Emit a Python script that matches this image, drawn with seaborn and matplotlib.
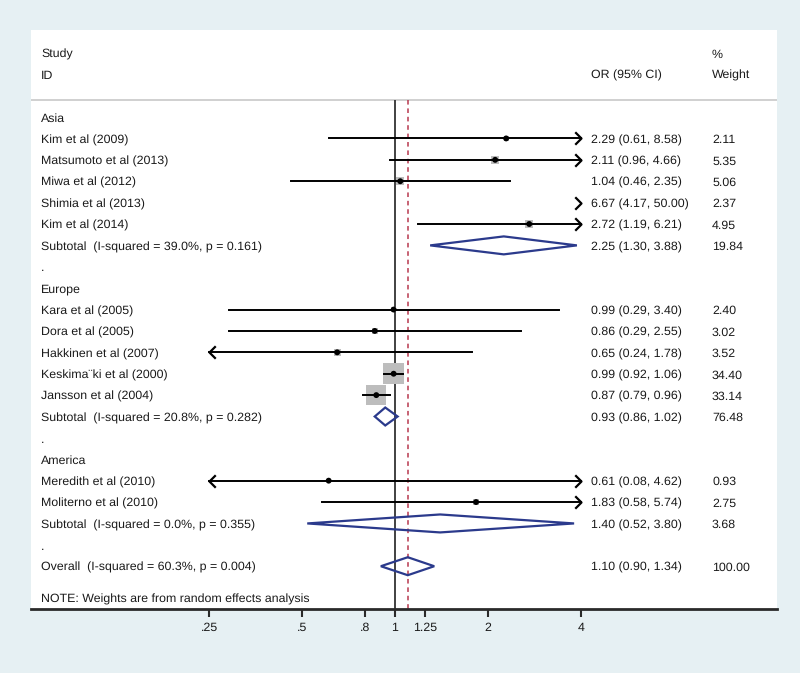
import numpy as np
import pandas as pd
import seaborn as sns
import matplotlib.pyplot as plt
from matplotlib.patches import Polygon
from matplotlib.transforms import blended_transform_factory

# ---- data ----
groups = ["Asia", "Europe", "America"]

study_group = ["Asia"] * 5 + ["Europe"] * 5 + ["America"] * 2
study_names = [
    "Kim et al (2009)", "Matsumoto et al (2013)", "Miwa et al (2012)",
    "Shimia et al (2013)", "Kim et al (2014)",
    "Kara et al (2005)", "Dora et al (2005)", "Hakkinen et al (2007)",
    "Keskima\u00a8ki et al (2000)", "Jansson et al (2004)",
    "Meredith et al (2010)", "Moliterno et al (2010)",
]
study_or = [2.29, 2.11, 1.04, 6.67, 2.72, 0.99, 0.86, 0.65, 0.99, 0.87, 0.61, 1.83]
study_lo = [0.61, 0.96, 0.46, 4.17, 1.19, 0.29, 0.29, 0.24, 0.92, 0.79, 0.08, 0.58]
study_hi = [8.58, 4.66, 2.35, 50.00, 6.21, 3.40, 2.55, 1.78, 1.06, 0.96, 4.62, 5.74]
study_weight = [2.11, 5.35, 5.06, 2.37, 4.95, 2.40, 3.02, 3.52, 34.40, 33.14, 0.93, 2.75]

subtotal_isq = [39.0, 20.8, 0.0]
subtotal_p = [0.161, 0.282, 0.355]
subtotal_or = [2.25, 0.93, 1.40]
subtotal_lo = [1.30, 0.86, 0.52]
subtotal_hi = [3.88, 1.02, 3.80]
subtotal_weight = [19.84, 76.48, 3.68]

overall_isq, overall_p = 60.3, 0.004
overall_or, overall_lo, overall_hi, overall_weight = 1.10, 0.90, 1.34, 100.00

tick_values = [0.25, 0.5, 0.8, 1, 1.25, 2, 4]
tick_labels = [".25", ".5", ".8", "1", "1.25", "2", "4"]
clip_lo, clip_hi = 0.25, 4

# ---- build row layout ----
rows = []   # (kind, label, est, lo, hi, weight)
for gi, g in enumerate(groups):
    rows.append(("group", g, np.nan, np.nan, np.nan, np.nan))
    for i, sg in enumerate(study_group):
        if sg == g:
            rows.append(("study", study_names[i], study_or[i], study_lo[i],
                         study_hi[i], study_weight[i]))
    rows.append(("sub", f"Subtotal  (I-squared = {subtotal_isq[gi]:.1f}%, p = {subtotal_p[gi]:.3f})",
                 subtotal_or[gi], subtotal_lo[gi], subtotal_hi[gi], subtotal_weight[gi]))
    rows.append(("blank", ".", np.nan, np.nan, np.nan, np.nan))
rows.append(("sub", f"Overall  (I-squared = {overall_isq:.1f}%, p = {overall_p:.3f})",
             overall_or, overall_lo, overall_hi, overall_weight))

df = pd.DataFrame(rows, columns=["kind", "label", "est", "lo", "hi", "weight"])
df["row"] = np.arange(len(df), dtype=float)
note_row = len(df) - 1 + 1.5

bg = "#e6f0f3"
navy = "#2b3a8c"
plt.rcParams["font.family"] = ["Liberation Sans", "DejaVu Sans"]
plt.rcParams["text.hinting"] = "none"
fs = 8.9
tc = "#1a1a1a"

fig = plt.figure(figsize=(8, 6.73), dpi=100, facecolor=bg)
ax = fig.add_axes([31 / 800, 64 / 673, 746 / 800, 579 / 673])
ax.set_facecolor("white")
ax.set_xscale("log")
ax.set_xlim(2 ** -3.914, 2 ** 4.108)
ax.set_ylim(23.0, -4.07)

lbl = blended_transform_factory(ax.transAxes, ax.transData)

def put(x, y, s):
    # shared baseline so every column lines up
    ax.text(x, y + 0.22, s, transform=lbl, va="baseline", fontsize=fs, color=tc)

# header
put(0.0134, -3.0, "Study")
put(0.0134, -2.0, "ID")
put(0.7507, -2.0, "OR (95% CI)")
put(0.9129, -3.0, "%")
put(0.9129, -2.0, "Weight")
ax.axhline(-0.8, color="#c8c8c8", lw=1.2)

# reference lines
ax.vlines(1, -0.8, 23, color="#333333", lw=1.3, zorder=2)
ax.vlines(overall_or, -0.8, 23, color="#b8384e", lw=1.1, linestyles=(0, (3, 2.5)), zorder=2)

# row text
for _, r in df.iterrows():
    put(0.0134, r.row, r.label)
    if not pd.isna(r.est):
        put(0.7507, r.row, f"{r.est:.2f} ({r.lo:.2f}, {r.hi:.2f})")
        put(0.9129, r.row, f"{r.weight:.2f}")
put(0.0134, note_row, "NOTE: Weights are from random effects analysis")

# studies
st = df[df.kind == "study"].copy()
vis = st[(st.est >= clip_lo) & (st.est <= clip_hi)]
sns.scatterplot(data=vis, x="est", y="row", size="weight", sizes=(0.93 * 6.5, 34.4 * 6.5),
                size_norm=(0.93, 34.4), marker="s", color="#bdbdbd",
                edgecolor="none", legend=False, ax=ax, zorder=3)
right_head = [(-1, 1), (0, 0), (-1, -1)]
left_head = [(1, 1), (0, 0), (1, -1)]
for _, r in st.iterrows():
    a, b = max(r.lo, clip_lo), min(r.hi, clip_hi)
    if a < b:
        ax.plot([a, b], [r.row, r.row], color="black", lw=1.4, zorder=4)
    if r.hi > clip_hi:
        ax.plot(clip_hi, r.row, marker=right_head, ms=9, mfc="none", mec="black",
                mew=1.6, zorder=4)
    if r.lo < clip_lo:
        ax.plot(clip_lo, r.row, marker=left_head, ms=9, mfc="none", mec="black",
                mew=1.6, zorder=4)
sns.scatterplot(data=vis, x="est", y="row", color="black", s=18, edgecolor="none",
                legend=False, ax=ax, zorder=5)

# diamonds
h = 0.42
for _, r in df[df.kind == "sub"].iterrows():
    pts = [(r.lo, r.row), (r.est, r.row - h), (r.hi, r.row), (r.est, r.row + h)]
    ax.add_patch(Polygon(pts, closed=True, fill=False, edgecolor=navy, lw=1.6, zorder=4))

# axis
for s in ["left", "right", "top"]:
    ax.spines[s].set_visible(False)
ax.spines["bottom"].set_color("#2a2a2a")
ax.spines["bottom"].set_linewidth(2)
ax.set_yticks([])
ax.set_xticks(tick_values)
ax.set_xticklabels(tick_labels, fontsize=fs, color=tc)
ax.minorticks_off()
ax.tick_params(axis="x", direction="out", length=5.5, width=1.5, color="#2a2a2a", pad=4)
ax.set_xlabel("")
ax.set_ylabel("")

fig.savefig("out.png", dpi=100, facecolor=bg)
